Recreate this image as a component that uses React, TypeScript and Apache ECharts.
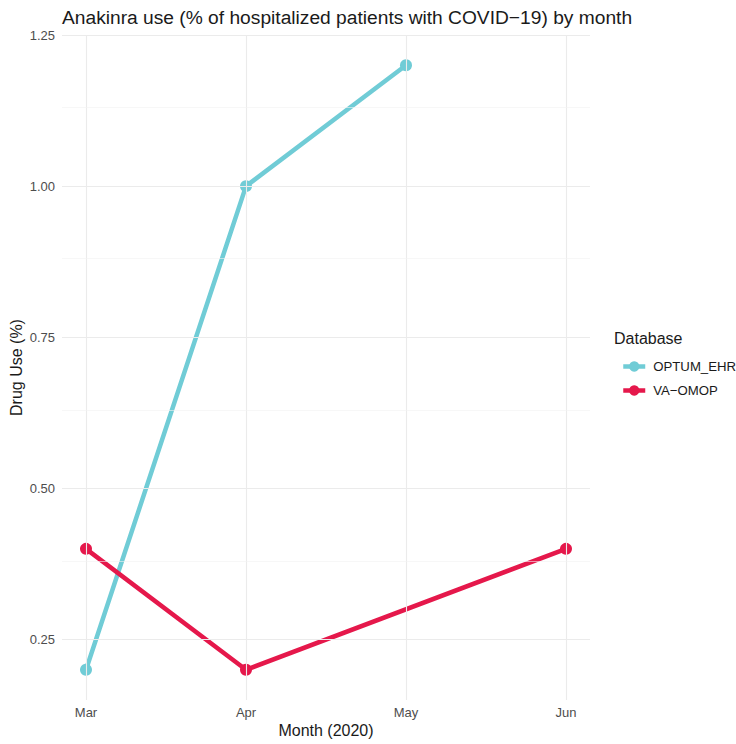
import React, { useEffect, useRef } from "react";
import * as echarts from "echarts";

const months = ["Mar", "Apr", "May", "Jun"];
const monthIdx = [0, 1, 2, 3];
const optumX = [0, 1, 2];
const optumY = [0.2, 1.0, 1.2];
const vaX = [0, 1, 3];
const vaY = [0.4, 0.2, 0.4];
const yMajor = [0.25, 0.5, 0.75, 1.0, 1.25];
const yMinor = [0.375, 0.625, 0.875, 1.125];

const FONT = "Liberation Sans, Arial, sans-serif";

export default function App() {
  const ref = useRef<HTMLDivElement>(null);
  useEffect(() => {
    if (!ref.current) return;
    const chart = echarts.init(ref.current, null, { renderer: "svg" });
    const gridMarks = [
      ...monthIdx.map((v) => ({ xAxis: v, lineStyle: { color: "#ebebeb", width: 1.1 } })),
      ...yMajor.map((v) => ({ yAxis: v, lineStyle: { color: "#ebebeb", width: 1.1 } })),
      ...yMinor.map((v) => ({ yAxis: v, lineStyle: { color: "#f2f2f2", width: 0.6 } })),
    ];
    chart.setOption({
      animation: false,
      backgroundColor: "#ffffff",
      textStyle: { fontFamily: FONT },
      title: {
        text: "Anakinra use (% of hospitalized patients with COVID\u221219) by month",
        left: 57,
        top: 3,
        textStyle: { fontSize: 19.2, fontWeight: "normal", color: "#1a1a1a", fontFamily: FONT },
      },
      grid: { left: 62, right: 146, top: 35, bottom: 44, containLabel: false, outerBoundsMode: "none" },
      xAxis: {
        type: "value",
        min: -0.15,
        max: 3.15,
        axisLine: { show: false },
        axisTick: { show: false },
        splitLine: { show: false },
        axisLabel: {
          customValues: monthIdx,
          formatter: (v: number) => months[Math.round(v)] ?? "",
          color: "#4d4d4d",
          fontSize: 13,
          margin: 6,
          fontFamily: FONT,
        },
        name: "Month (2020)",
        nameLocation: "middle",
        nameGap: 22,
        nameMoveOverlap: false,
        nameTextStyle: { fontSize: 16, color: "#1a1a1a", fontFamily: FONT },
      },
      yAxis: {
        type: "value",
        min: 0.15,
        max: 1.25,
        axisLine: { show: false },
        axisTick: { show: false },
        splitLine: { show: false },
        axisLabel: {
          customValues: yMajor,
          formatter: (v: number) => v.toFixed(2),
          color: "#4d4d4d",
          fontSize: 13,
          margin: 7,
          fontFamily: FONT,
        },
        name: "Drug Use (%)",
        nameLocation: "middle",
        nameGap: 38,
        nameMoveOverlap: false,
        nameRotate: 90,
        nameTextStyle: { fontSize: 16, color: "#1a1a1a", fontFamily: FONT },
      },
      legend: {
        orient: "vertical",
        left: 616,
        top: 355,
        itemWidth: 22,
        itemHeight: 13,
        itemGap: 11,
        lineStyle: { width: 4.5 },
        data: ["OPTUM_EHR", "VA\u2212OMOP"],
        textStyle: { fontSize: 13.2, color: "#1a1a1a", fontFamily: FONT, padding: [0, 0, 0, 3] },
      },
      graphic: [
        {
          type: "text",
          left: 614,
          top: 330,
          style: { text: "Database", fontSize: 16, fill: "#1a1a1a", fontFamily: FONT },
        },
      ],
      series: [
        {
          type: "line",
          name: "__grid",
          data: [],
          z: 0,
          silent: true,
          markLine: {
            silent: true,
            symbol: ["none", "none"],
            label: { show: false },
            lineStyle: { type: "solid" },
            data: gridMarks,
          },
        },
        {
          type: "line",
          name: "OPTUM_EHR",
          z: 3,
          data: optumX.map((x, i) => [x, optumY[i]]),
          color: "#70ccd6",
          lineStyle: { width: 4.5, color: "#70ccd6" },
          itemStyle: { color: "#70ccd6" },
          symbol: "circle",
          symbolSize: 12,
          showSymbol: true,
        },
        {
          type: "line",
          name: "VA\u2212OMOP",
          z: 4,
          data: vaX.map((x, i) => [x, vaY[i]]),
          color: "#e5184b",
          lineStyle: { width: 4.5, color: "#e5184b" },
          itemStyle: { color: "#e5184b" },
          symbol: "circle",
          symbolSize: 12,
          showSymbol: true,
        },
      ],
    });
    return () => chart.dispose();
  }, []);
  return (
    <div
      ref={ref}
      style={{ position: "fixed", left: 0, top: 0, width: 736, height: 744, background: "#fff" }}
    />
  );
}
